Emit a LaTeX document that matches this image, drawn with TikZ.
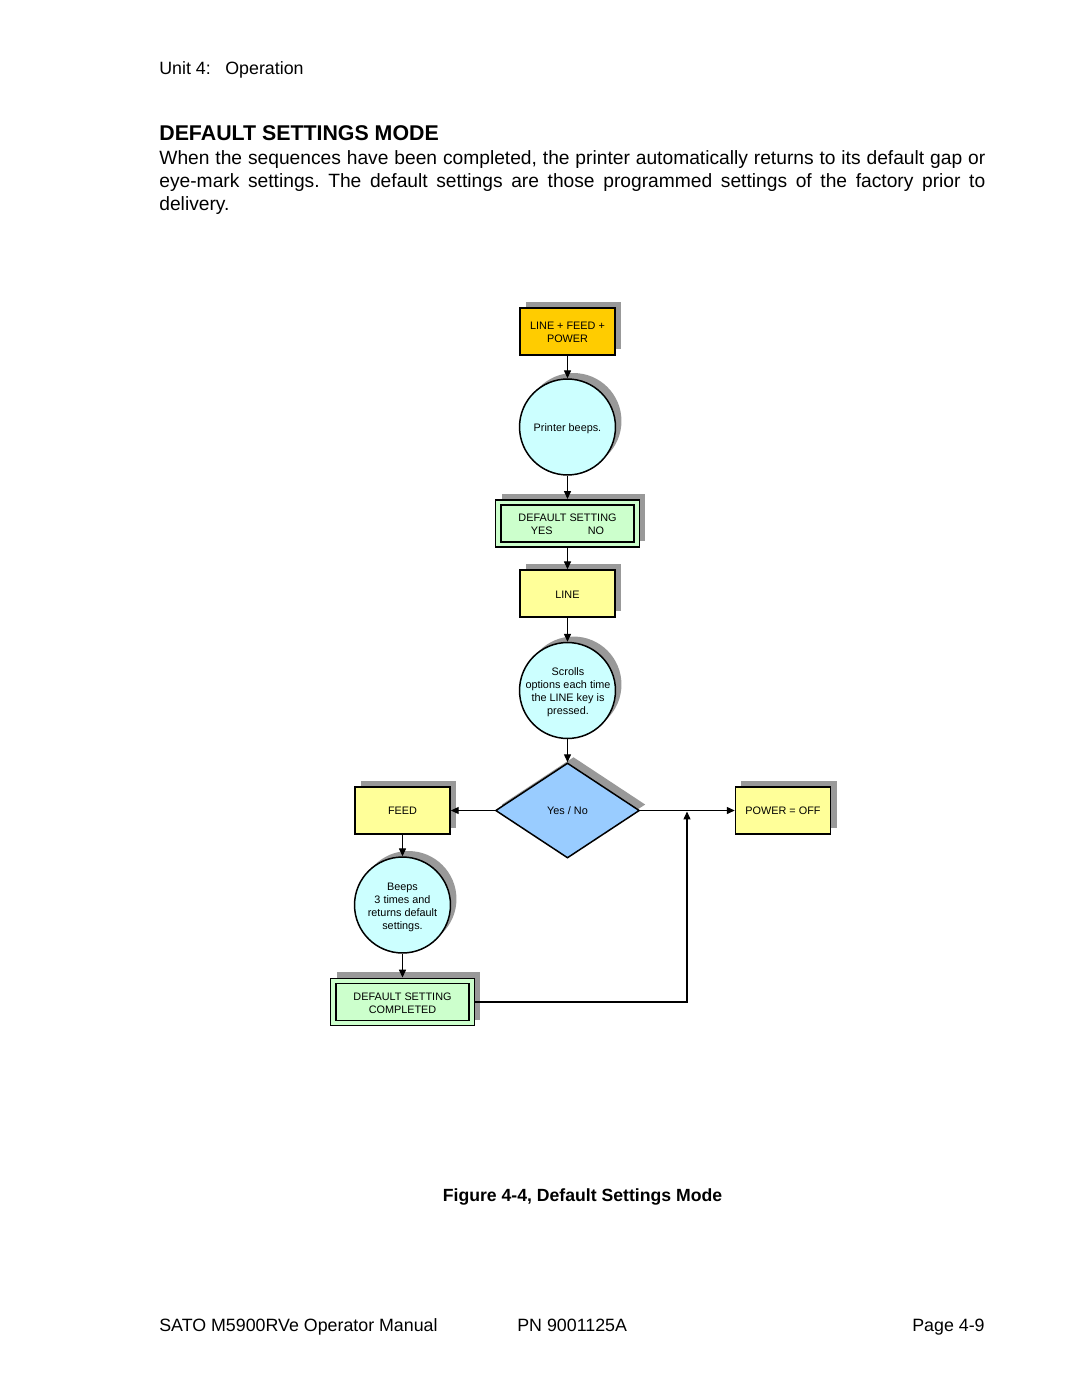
\documentclass[tikz,border=0pt]{standalone}
\usepackage{fontspec}
\setmainfont{Liberation Sans}
\usetikzlibrary{shapes.geometric,arrows.meta,shadows}
\definecolor{orangeF}{HTML}{FFCC00}
\definecolor{yellowF}{HTML}{FFFF99}
\definecolor{cyanF}{HTML}{CCFFFF}
\definecolor{greenF}{HTML}{CCFFCC}
\definecolor{blueF}{HTML}{99CCFF}
\definecolor{shadowG}{HTML}{999999}
\tikzset{
  shd/.style={drop shadow={shadow xshift=3.4pt,shadow yshift=3.4pt,fill=shadowG,opacity=1}},
  dtext/.style={font=\fontsize{6.15}{7.4}\selectfont,align=center,text=black,inner sep=0pt},
  box/.style={shd,draw=black,line width=0.85pt,rectangle,minimum width=53.9pt,minimum height=26.6pt,inner sep=1pt},
  circ/.style={shd,draw=black,line width=0.85pt,circle,minimum size=54.4pt,inner sep=0pt,fill=cyanF},
  dbox/.style={shd,draw=black,line width=0.85pt,rectangle,minimum width=81.6pt,minimum height=26.9pt,inner sep=1pt,fill=greenF},
  dia/.style={shd,draw=black,line width=0.85pt,diamond,minimum width=81.6pt,minimum height=53.9pt,inner sep=0pt,fill=blueF},
  conn/.style={draw=black,line width=0.6pt,-{Triangle[length=4.5pt,width=4pt]}},
  txt/.style={inner sep=0pt,text=black}
}
\begin{document}
\begin{tikzpicture}[x=0.567pt,y=-0.567pt]
\useasboundingbox[fill=white] (0,0) rectangle (1080,1397);
% header
\node[txt,anchor=base west,font=\fontsize{10.1}{12}\selectfont] (hdr1) at (159,75) {Unit 4:};
\node[txt,anchor=base west,font=\fontsize{10.1}{12}\selectfont] (hdr2) at (225,75) {Operation};
\node[txt,anchor=base west,font=\fontsize{12.1}{14}\selectfont\bfseries] (title) at (159,141) {DEFAULT SETTINGS MODE};
\node[txt,anchor=north west,text width=468.3pt,align=justify,font=\fontsize{10.9}{13}\selectfont] (para) at (159,150.5)
 {\frenchspacing\hyphenpenalty=10000 When the sequences have been completed, the printer automatically returns to its default gap or\linebreak eye-mark settings. The default settings are those programmed settings of the factory prior to\linebreak delivery.};
% diagram shapes
\node[box,fill=orangeF] (b1) at (567.5,331.5) {};
\node[circ] (c1) at (567.5,427) {};
\node[dbox] (ds) at (567.5,523.5) {};
\draw[black,line width=0.85pt] ([shift={(6,6)}]ds.north west) rectangle ([shift={(-6,-6)}]ds.south east);
\node[box,fill=yellowF] (ln) at (567.5,593.5) {};
\node[circ] (c2) at (567.5,690.5) {};
\node[dia] (d) at (567.5,810.5) {};
\node[box,fill=yellowF] (feed) at (402.5,810.5) {};
\node[box,fill=yellowF] (pwr) at (783,810.5) {};
\node[circ] (c3) at (402.5,905) {};
\node[dbox] (done) at (402.5,1002) {};
\draw[black,line width=0.85pt] ([shift={(6,6)}]done.north west) rectangle ([shift={(-6,-6)}]done.south east);
% diagram texts
\node[dtext] (b1t) at ([shift={(0,1)}]b1.center) {LINE + FEED +\\POWER};
\node[dtext] (c1t) at ([shift={(0,2)}]c1.center) {Printer beeps.};
\node[dtext] (dst) at ([shift={(0,1)}]ds.center) {DEFAULT SETTING\\YES\hspace{20pt}NO};
\node[dtext] (lnt) at ([shift={(0,1)}]ln.center) {LINE};
\node[dtext] (c2t) at ([shift={(0.5,2)}]c2.center) {Scrolls\\options each time\\the LINE key is\\pressed.};
\node[dtext] (dt) at (d.center) {Yes / No};
\node[dtext] (feedt) at ([shift={(0,0.5)}]feed.center) {FEED};
\node[dtext] (pwrt) at ([shift={(0,0.5)}]pwr.center) {POWER = OFF};
\node[dtext] (c3t) at ([shift={(0,2.5)}]c3.center) {Beeps\\3 times and\\returns default\\settings.};
\node[dtext] (donet) at ([shift={(0,1)}]done.center) {DEFAULT SETTING\\COMPLETED};
\coordinate (j) at (687,811.5);
% connectors
\draw[conn] (b1.south) -- (c1.north);
\draw[conn] (c1.south) -- (ds.north);
\draw[conn] (ds.south) -- (ln.north);
\draw[conn] (ln.south) -- (c2.north);
\draw[conn] (c2.south) -- (d.north);
\draw[conn] (d.west) -- (feed.east);
\draw[conn] (d.east) -- (pwr.west);
\draw[conn] (feed.south) -- (c3.north);
\draw[conn] (c3.south) -- (done.north);
\draw[conn] (done.east) -| (j);
% caption and footer
\node[txt,anchor=base,font=\fontsize{10}{12}\selectfont\bfseries] (cap) at (582.5,1201) {Figure 4-4, Default Settings Mode};
\node[txt,anchor=base west,font=\fontsize{10.1}{12}\selectfont] (f1) at (159,1331) {SATO M5900RVe Operator Manual};
\node[txt,anchor=base west,font=\fontsize{10.1}{12}\selectfont] (f2) at (517,1331) {PN 9001125A};
\node[txt,anchor=base east,font=\fontsize{10.1}{12}\selectfont] (f3) at (985,1331) {Page 4-9};
\end{tikzpicture}
\end{document}
